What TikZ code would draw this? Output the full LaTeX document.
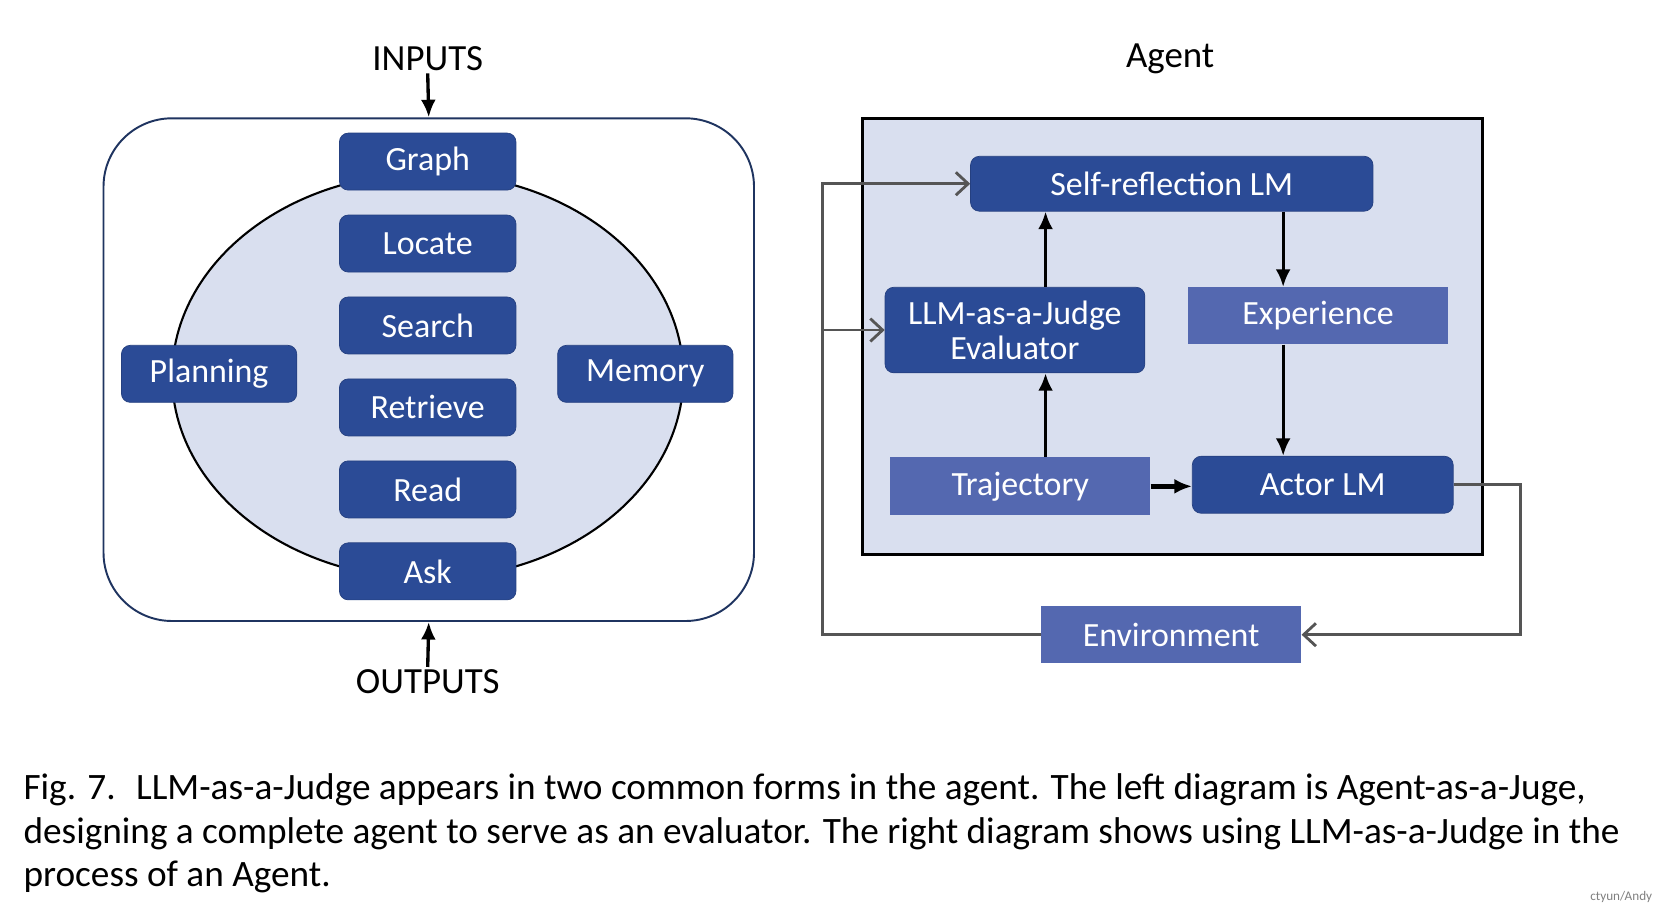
\documentclass[tikz,border=0pt]{standalone}
\usepackage{fontspec}
\setmainfont{Carlito}
\usetikzlibrary{positioning}
\usetikzlibrary{arrows.meta}

\definecolor{darkbox}{HTML}{2B4B96}
\definecolor{midbox}{HTML}{5468B0}
\definecolor{paleblue}{HTML}{D9DFEF}
\definecolor{framenavy}{HTML}{1F3460}
\definecolor{loopgray}{HTML}{555555}

\newcommand{\boxfont}{\fontsize{19.3}{19.8}\selectfont}
\newcommand{\headfont}{\fontsize{21}{24}\selectfont}
\newcommand{\capfont}{\fontsize{21.2}{24}\selectfont}

\tikzset{
  roundbox/.style={rectangle, rounded corners=5pt, fill=darkbox, draw=darkbox!85!black, thin,
    text=white, font=\boxfont, minimum width=3.53cm, minimum height=1.14cm, inner sep=0pt, align=center},
  flatbox/.style={rectangle, fill=midbox, text=white, font=\boxfont,
    minimum width=5.2cm, minimum height=1.14cm, inner sep=0pt},
  headlabel/.style={font=\headfont, inner sep=1pt},
  flow/.style={-{Latex[length=10pt,width=8.5pt]}, line width=1.9pt},
  loopline/.style={draw=loopgray, line width=1.6pt, -{Straight Barb[length=7pt,width=13pt]}}
}

\begin{document}
\begin{tikzpicture}
\fill[white] (0,0) rectangle (33.12,18.24);
\useasboundingbox (0,0) rectangle (33.12,18.24);

% left: agent as a judge
\node[draw=framenavy, line width=1.1pt, rounded corners=1.37cm, minimum width=13.01cm, minimum height=10.054cm] (judgeframe) at (8.575,10.847) {};
\draw[fill=paleblue, line width=1.2pt] (8.554,10.72) ellipse (5.112 and 4.055);
\foreach \name/\label [count=\i] in {graph/Graph, locate/Locate, search/Search, retrieve/Retrieve, read/Read, ask/Ask}
  \node[roundbox] (\name) at (8.554, {15.008-1.639*(\i-1)}) {\label};
\node[roundbox, minimum width=3.506cm] (planning) at (4.182,10.763) {Planning};
\node[roundbox, minimum width=3.506cm] (memory) at (12.906,10.763) {Memory};

\node[headlabel] (inputs) at (8.554,17.057) {INPUTS};
\node[headlabel] (outputs) at (8.554,4.616) {OUTPUTS};
\draw[flow] (inputs.south) -- (judgeframe.north);
\draw[flow] (outputs.north) -- (judgeframe.south);

% right: judge inside the agent
\node[headlabel] (agent) at (23.403,17.057) {Agent};
\draw[fill=paleblue, line width=1.8pt] (17.257,7.151) rectangle (29.655,15.874);

\node[roundbox, minimum width=8.048cm, minimum height=1.098cm] (selfref) at (23.435,14.565) {Self-reflection LM};
\node[roundbox, minimum width=5.196cm, minimum height=1.711cm] (judge) at (20.298,11.639) {LLM-as-a-Judge\\Evaluator};
\node[flatbox] (experience) at (26.360,11.924) {Experience};
\node[flatbox, minimum height=1.16cm] (trajectory) at (20.404,8.513) {Trajectory};
\node[roundbox, minimum width=5.217cm] (actor) at (26.455,8.545) {Actor LM};
\node[flatbox] (environment) at (23.424,5.546) {Environment};

\coordinate (colA) at (20.911,0);
\coordinate (colB) at (25.663,0);
\coordinate (loopL) at (16.454,0);
\coordinate (loopR) at (30.416,0);

\draw[flow] (judge.north -| colA) -- (selfref.south -| colA);
\draw[flow] (trajectory.north -| colA) -- (judge.south -| colA);
\draw[flow] (selfref.south -| colB) -- (experience.north -| colB);
\draw[flow] (experience.south -| colB) -- (actor.north -| colB);
\draw[flow, line width=2.8pt] (trajectory.east) -- (trajectory.east -| actor.west);

\draw[loopline] (actor.east) -- (actor.east -| loopR) |- (environment.east);
\draw[loopline] (environment.west) -- (environment.west -| loopL) |- (selfref.west);
\draw[loopline] (loopL |- judge.west) -- (judge.west);

% caption
\node[font=\capfont, anchor=west, inner sep=0pt] (cap1) at (0.465,2.441) {Fig. 7.\hspace{0.55em}LLM-as-a-Judge appears in two common forms in the agent. The left diagram is Agent-as-a-Juge,};
\node[font=\capfont, anchor=west, inner sep=0pt] (cap2) at (0.465,1.555) {designing a complete agent to serve as an evaluator. The right diagram shows using LLM-as-a-Judge in the};
\node[font=\capfont, anchor=west, inner sep=0pt] (cap3) at (0.465,0.709) {process of an Agent.};
\node[font=\fontsize{7.5}{9}\selectfont, text=gray, anchor=east, inner sep=0pt] (mark) at (33.05,0.30) {ctyun/Andy};

\end{tikzpicture}
\end{document}
